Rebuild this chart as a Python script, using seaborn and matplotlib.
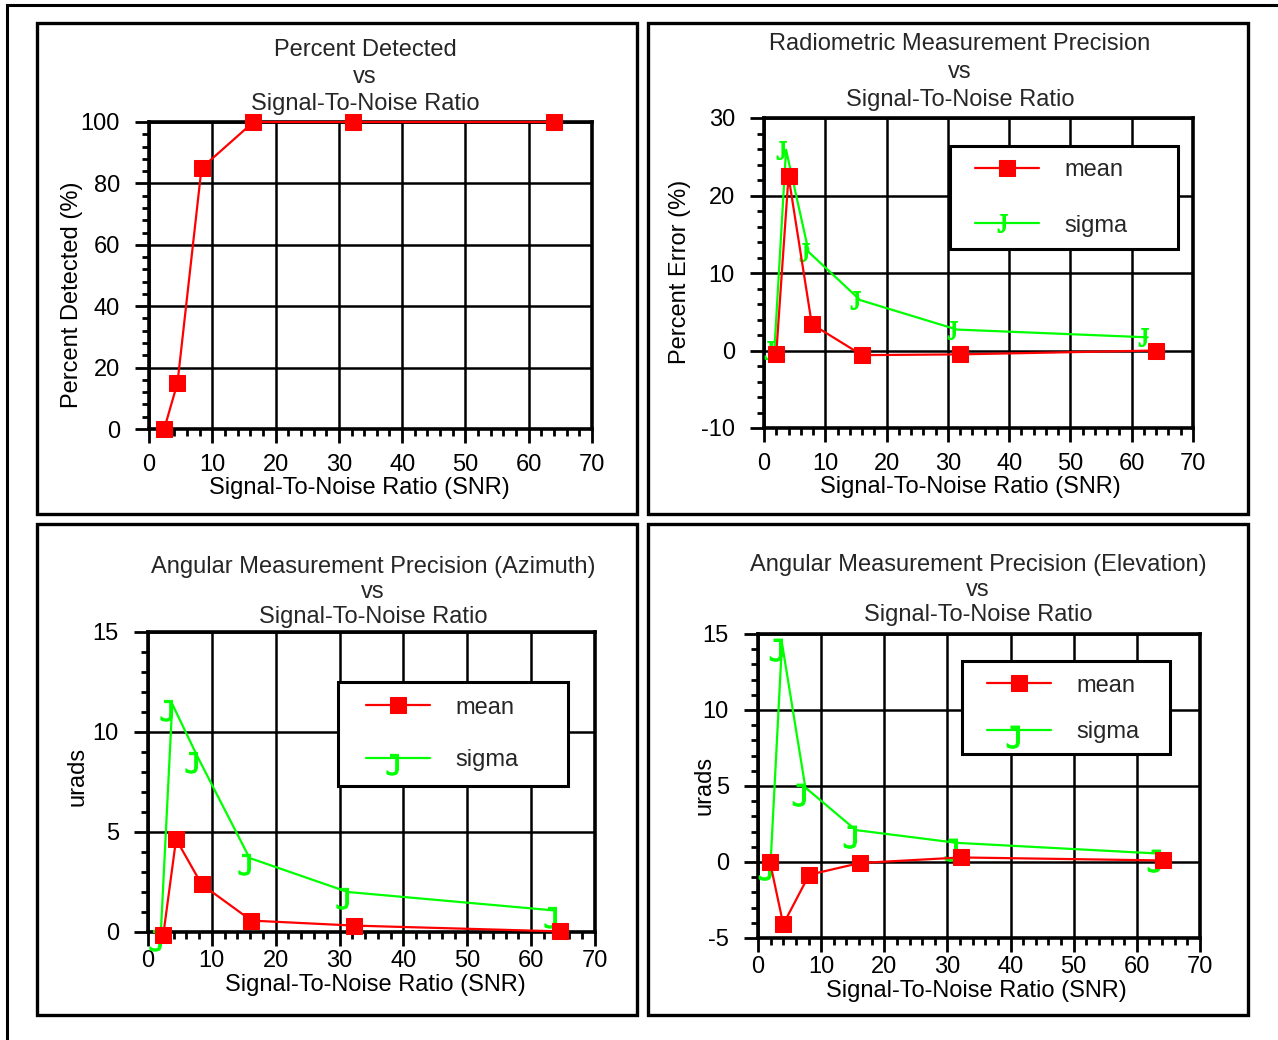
import matplotlib
matplotlib.use("Agg")
import numpy as np
import pandas as pd
import seaborn as sns
import matplotlib.pyplot as plt
from matplotlib.patches import Rectangle
from matplotlib.ticker import MultipleLocator
from matplotlib.textpath import TextPath
from matplotlib.font_manager import FontProperties
from matplotlib.path import Path

# ---------------- data ----------------
det_snr = [2.4, 4.5, 8.3, 16.5, 32.3, 64.0]
det_pct = [0, 15, 85, 100, 100, 100]

rad_mean_snr = [2.0, 4.0, 7.8, 16.0, 31.9, 63.9]
rad_mean = [-0.4, 22.5, 3.4, -0.6, -0.5, 0.0]
rad_sigma_snr = [1.7, 3.6, 7.3, 15.7, 31.5, 62.6]
rad_sigma = [0.1, 25.9, 12.7, 6.5, 2.7, 1.7]

az_mean_snr = [2.4, 4.4, 8.4, 16.2, 32.3, 64.5]
az_mean = [-0.13, 4.64, 2.38, 0.57, 0.32, 0.03]
az_sigma_snr = [2.0, 3.8, 7.7, 15.9, 31.3, 63.9]
az_sigma = [-0.1, 11.4, 8.8, 3.7, 2.0, 1.07]

el_mean_snr = [1.9, 4.0, 8.1, 16.1, 32.1, 64.2]
el_mean = [0.0, -4.1, -0.84, -0.07, 0.3, 0.1]
el_sigma_snr = [2.0, 3.8, 7.5, 15.5, 31.5, 63.7]
el_sigma = [0.0, 14.4, 4.9, 2.1, 1.26, 0.55]

x_label = "Signal-To-Noise Ratio (SNR)"
titles = ["Percent Detected\nvs\nSignal-To-Noise Ratio",
          "Radiometric Measurement Precision\nvs\nSignal-To-Noise Ratio",
          "Angular Measurement Precision (Azimuth)\nvs\nSignal-To-Noise Ratio",
          "Angular Measurement Precision (Elevation)\nvs\nSignal-To-Noise Ratio"]
y_labels = ["Percent Detected (%)", "Percent Error (%)", "urads", "urads"]
series_names = ["mean", "sigma"]

# ---------------- style ----------------
sns.set_theme(style="ticks")
plt.rcParams["font.family"] = ["Liberation Sans", "DejaVu Sans"]
plt.rcParams["axes.unicode_minus"] = False

RED = "#ff0000"
GREEN = "#00ff00"
FS = 17

W, H = 1278, 1040
fig = plt.figure(figsize=(W / 100, H / 100), dpi=100)
fig.patch.set_facecolor("white")


def fx(x):
    return x / W


def fy(y):
    return 1 - y / H


def make_axes(l, r, t, b):
    return fig.add_axes([fx(l), fy(b), (r - l) / W, (b - t) / H])


def j_marker(family, yfrac, h_pts):
    tp = TextPath((0, 0), "J", size=1, prop=FontProperties(family=family))
    v = tp.vertices.copy()
    xmin, ymin = v.min(0)
    xmax, ymax = v.max(0)
    v[:, 0] -= xmax
    v[:, 1] -= ymax - yfrac * (ymax - ymin)
    p = Path(v, tp.codes)
    maxabs = np.abs(v).max()
    ms = h_pts * 2 * maxabs / (ymax - ymin)
    return p, ms


def style_axes(ax, ylim, ymaj, ymin_, xpad):
    ax.set_xlim(0, 70)
    ax.set_ylim(*ylim)
    ax.xaxis.set_major_locator(MultipleLocator(10))
    ax.xaxis.set_minor_locator(MultipleLocator(2))
    ax.yaxis.set_major_locator(MultipleLocator(ymaj))
    ax.yaxis.set_minor_locator(MultipleLocator(ymin_))
    ax.grid(True, which="major", color="black", lw=1.8)
    ax.set_axisbelow(True)
    for s in ax.spines.values():
        s.set_visible(True)
        s.set_color("black")
        s.set_linewidth(2.6)
    ax.tick_params(which="both", direction="out", color="black", width=2,
                   bottom=True, left=True, top=False, right=False)
    ax.tick_params(which="major", length=10, labelsize=FS, labelcolor="black")
    ax.tick_params(which="minor", length=5)
    ax.tick_params(axis="x", which="major", pad=xpad)
    ax.tick_params(axis="y", which="major", pad=11)
    ax.set_facecolor("white")


def labels(ax, xl, xlpos, yl, ylpos):
    ax.set_xlabel(xl, fontsize=FS, color="black")
    ax.xaxis.set_label_coords(*xlpos)
    ax.xaxis.label.set_va("center")
    ax.set_ylabel(yl, fontsize=FS, color="black")
    ax.yaxis.set_label_coords(*ylpos)
    ax.yaxis.label.set_va("center")


def draw_pair(ax, msnr, mval, ssnr, sval, jpath, jms):
    sns.lineplot(x=msnr, y=mval, ax=ax, color=RED, lw=1.6, marker="s",
                 markersize=12, markeredgecolor=RED, markerfacecolor=RED,
                 label=series_names[0], sort=False, errorbar=None,
                 clip_on=False, zorder=6)
    sns.lineplot(x=ssnr, y=sval, ax=ax, color=GREEN, lw=1.6, marker=jpath,
                 markersize=jms, markeredgecolor=GREEN, markerfacecolor=GREEN,
                 markeredgewidth=0.7, label=series_names[1], sort=False,
                 errorbar=None, clip_on=False, zorder=5)


def legend_box(ax, l, r, t, b, hx, yc, spacing):
    ax.add_patch(Rectangle((fx(l), fy(b)), (r - l) / W, (b - t) / H,
                           transform=fig.transFigure, facecolor="white",
                           edgecolor="black", lw=2.2, zorder=7, clip_on=False))
    leg = ax.legend(loc="center left", bbox_to_anchor=(fx(hx), fy(yc)),
                    bbox_transform=fig.transFigure, frameon=False, fontsize=FS,
                    handlelength=2.7, handletextpad=1.1, labelspacing=spacing,
                    borderpad=0, borderaxespad=0, numpoints=1)
    leg.set_zorder(8)


# ---------------- panel frames ----------------
fig.add_artist(Rectangle((fx(7), fy(1100)), (1400 - 7) / W, (1100 - 5) / H,
                         transform=fig.transFigure, fill=False,
                         edgecolor="black", lw=2.2))
for (l, r, t, b) in [(37, 637, 23, 514), (648, 1248, 23, 514),
                     (37, 637, 524, 1015), (648, 1248, 524, 1015)]:
    fig.add_artist(Rectangle((fx(l), fy(b)), (r - l) / W, (b - t) / H,
                             transform=fig.transFigure, fill=False,
                             edgecolor="black", lw=2.4))

# ---------------- panel 1: percent detected ----------------
ax1 = make_axes(149, 592, 122, 429)
style_axes(ax1, (0, 100), 20, 4, 8)
sns.lineplot(x=det_snr, y=det_pct, ax=ax1, color=RED, lw=1.6, marker="s",
             markersize=12, markeredgecolor=RED, markerfacecolor=RED,
             sort=False, errorbar=None, clip_on=False, zorder=6)
labels(ax1, x_label, (0.476, -0.192), y_labels[0], (-0.174, 0.436))
fig.text(fx(365), fy(77), titles[0], ha="center", va="center",
         multialignment="center", fontsize=FS, linespacing=1.27)

# ---------------- panel 2: radiometric ----------------
jp_serif, jms_serif = j_marker("Liberation Serif", 0.5, 13)
ax2 = make_axes(764, 1193, 118, 428)
style_axes(ax2, (-10, 30), 10, 2, 8)
draw_pair(ax2, rad_mean_snr, rad_mean, rad_sigma_snr, rad_sigma,
          jp_serif, jms_serif)
labels(ax2, x_label, (0.48, -0.19), y_labels[1], (-0.196, 0.503))
legend_box(ax2, 950, 1178, 146, 249, 975, 198, 1.4)
fig.text(fx(960), fy(72), titles[1], ha="center", va="center",
         multialignment="center", fontsize=FS, linespacing=1.33)

# ---------------- panel 3: azimuth ----------------
jp_mono, jms_mono = j_marker("DejaVu Sans Mono", 0.2, 15)
ax3 = make_axes(148, 595, 632, 932)
style_axes(ax3, (0, 15), 5, 1, 3)
draw_pair(ax3, az_mean_snr, az_mean, az_sigma_snr, az_sigma,
          jp_mono, jms_mono)
labels(ax3, x_label, (0.508, -0.177), y_labels[2], (-0.157, 0.517))
legend_box(ax3, 338, 568, 682, 786, 366, 734, 1.3)
fig.text(fx(373), fy(592), titles[2], ha="center", va="center",
         multialignment="center", fontsize=FS, linespacing=1.2)

# ---------------- panel 4: elevation ----------------
jp_mono2, jms_mono2 = j_marker("DejaVu Sans Mono", 0.2, 16)
ax4 = make_axes(758, 1200, 634, 938)
style_axes(ax4, (-5, 15), 5, 1, 3)
draw_pair(ax4, el_mean_snr, el_mean, el_sigma_snr, el_sigma,
          jp_mono2, jms_mono2)
labels(ax4, x_label, (0.495, -0.174), y_labels[3], (-0.12, 0.503))
legend_box(ax4, 962, 1170, 661, 754, 987, 709, 1.05)
fig.text(fx(978), fy(590), titles[3], ha="center", va="center",
         multialignment="center", fontsize=FS, linespacing=1.2)

fig.savefig("out.png", dpi=100, facecolor="white")
